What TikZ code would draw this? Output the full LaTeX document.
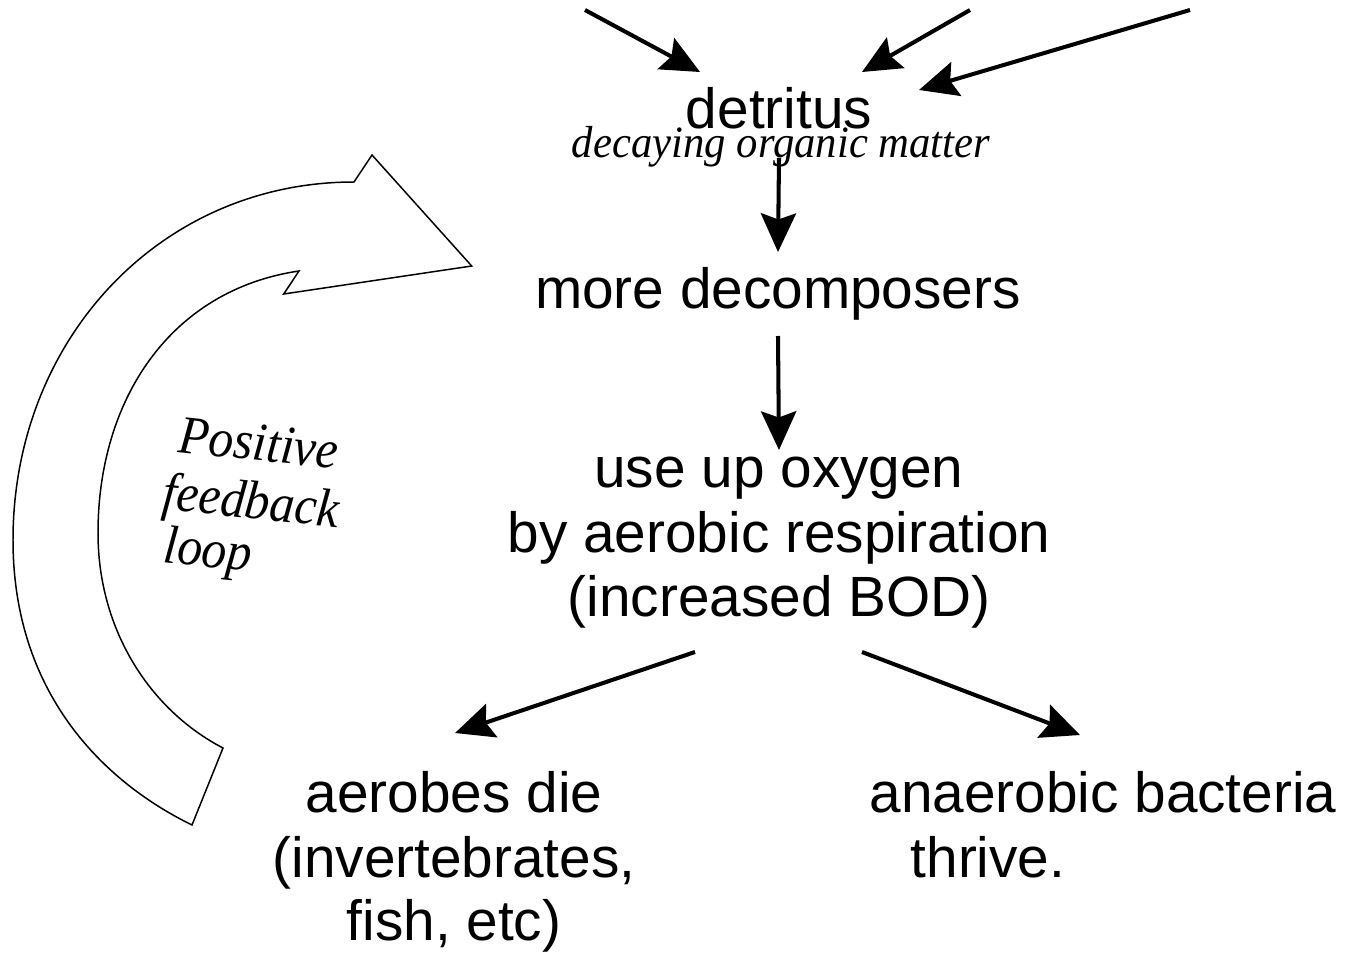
\documentclass[tikz,border=0pt]{standalone}
\usepackage{fontspec}
\setmainfont{Liberation Sans}
\newfontfamily\serifit{Liberation Serif}
\usetikzlibrary{arrows.meta,calc}
\begin{document}
\begin{tikzpicture}[x=0.02cm,y=-0.02cm,
  lbl/.style={font=\fontsize{32.3}{36}\selectfont, inner sep=0, anchor=base},
  itl/.style={font=\serifit\itshape\fontsize{24.3}{28}\selectfont, inner sep=0, anchor=base, yscale=1.05},
  loopt/.style={font=\serifit\itshape\fontsize{27.5}{30}\selectfont, inner sep=0, anchor=base west, rotate=-6, xscale=1.03, yscale=1.12},
  arr/.style={line width=2.3pt, -{Stealth[length=22pt,width=20pt,inset=3.5pt]}},
  bigarrow/.style={line width=0.85pt, fill=white, line join=miter}
]
\useasboundingbox (0,0) rectangle (1345,953);

% big hollow curved arrow
\draw[bigarrow] (372,155) -- (471.7,266) -- (283.7,294) -- (299,271)
  .. controls (170,290) and (98,400) .. (98,533)
  .. controls (98,630) and (150,710) .. (223,748)
  -- (192,825)
  .. controls (100,780) and (13,690) .. (13,540)
  .. controls (13,340) and (160,182) .. (354,182) -- cycle;

\node[loopt] (pos) at (177,452) {Positive};
\node[loopt] (feed) at (161,509) {feedback};
\node[loopt] (loop) at (162,562) {loop};

% texts
\node[lbl] (det) at (779,129) {detritus};
\node[itl] (dam) at (781,157) {decaying organic matter};
\node[lbl] (dec) at (778,308) {more decomposers};
\node[lbl] (use) at (779,487) {use up oxygen};
\node[lbl] (by) at (779,552) {by aerobic respiration};
\node[lbl] (inc) at (779,616) {(increased BOD)};
\node[lbl] (aer) at (454,812) {aerobes die};
\node[lbl] (inv) at (454,877) {(invertebrates,};
\node[lbl] (fish) at (454,940) {fish, etc)};
\node[lbl] (ana) at (1103,812) {anaerobic bacteria};
\node[lbl] (thr) at (988,877) {thrive.};

% incoming arrows
\coordinate (in1) at (585,10);
\coordinate (in2) at (970,10);
\coordinate (in3) at (1190,10);
\draw[arr] (in1) -- ($(det.base)+(-79,-57)$);
\draw[arr] (in2) -- ($(det.base)+(83,-57)$);
\draw[arr] (in3) -- ($(det.base)+(140,-39)$);

% vertical arrows
\draw[arr] (det.base |- 0,158) -- (dec.base |- 0,252);
\draw[arr] (dec.base |- 0,336) -- (use.base |- 0,450);

% branching arrows
\draw[arr] ($(inc.base)+(-84,36)$) -- ($(aer.base)+(1,-79)$);
\draw[arr] ($(inc.base)+(83,36)$) -- ($(ana.base)+(-23,-77)$);
\end{tikzpicture}
\end{document}
